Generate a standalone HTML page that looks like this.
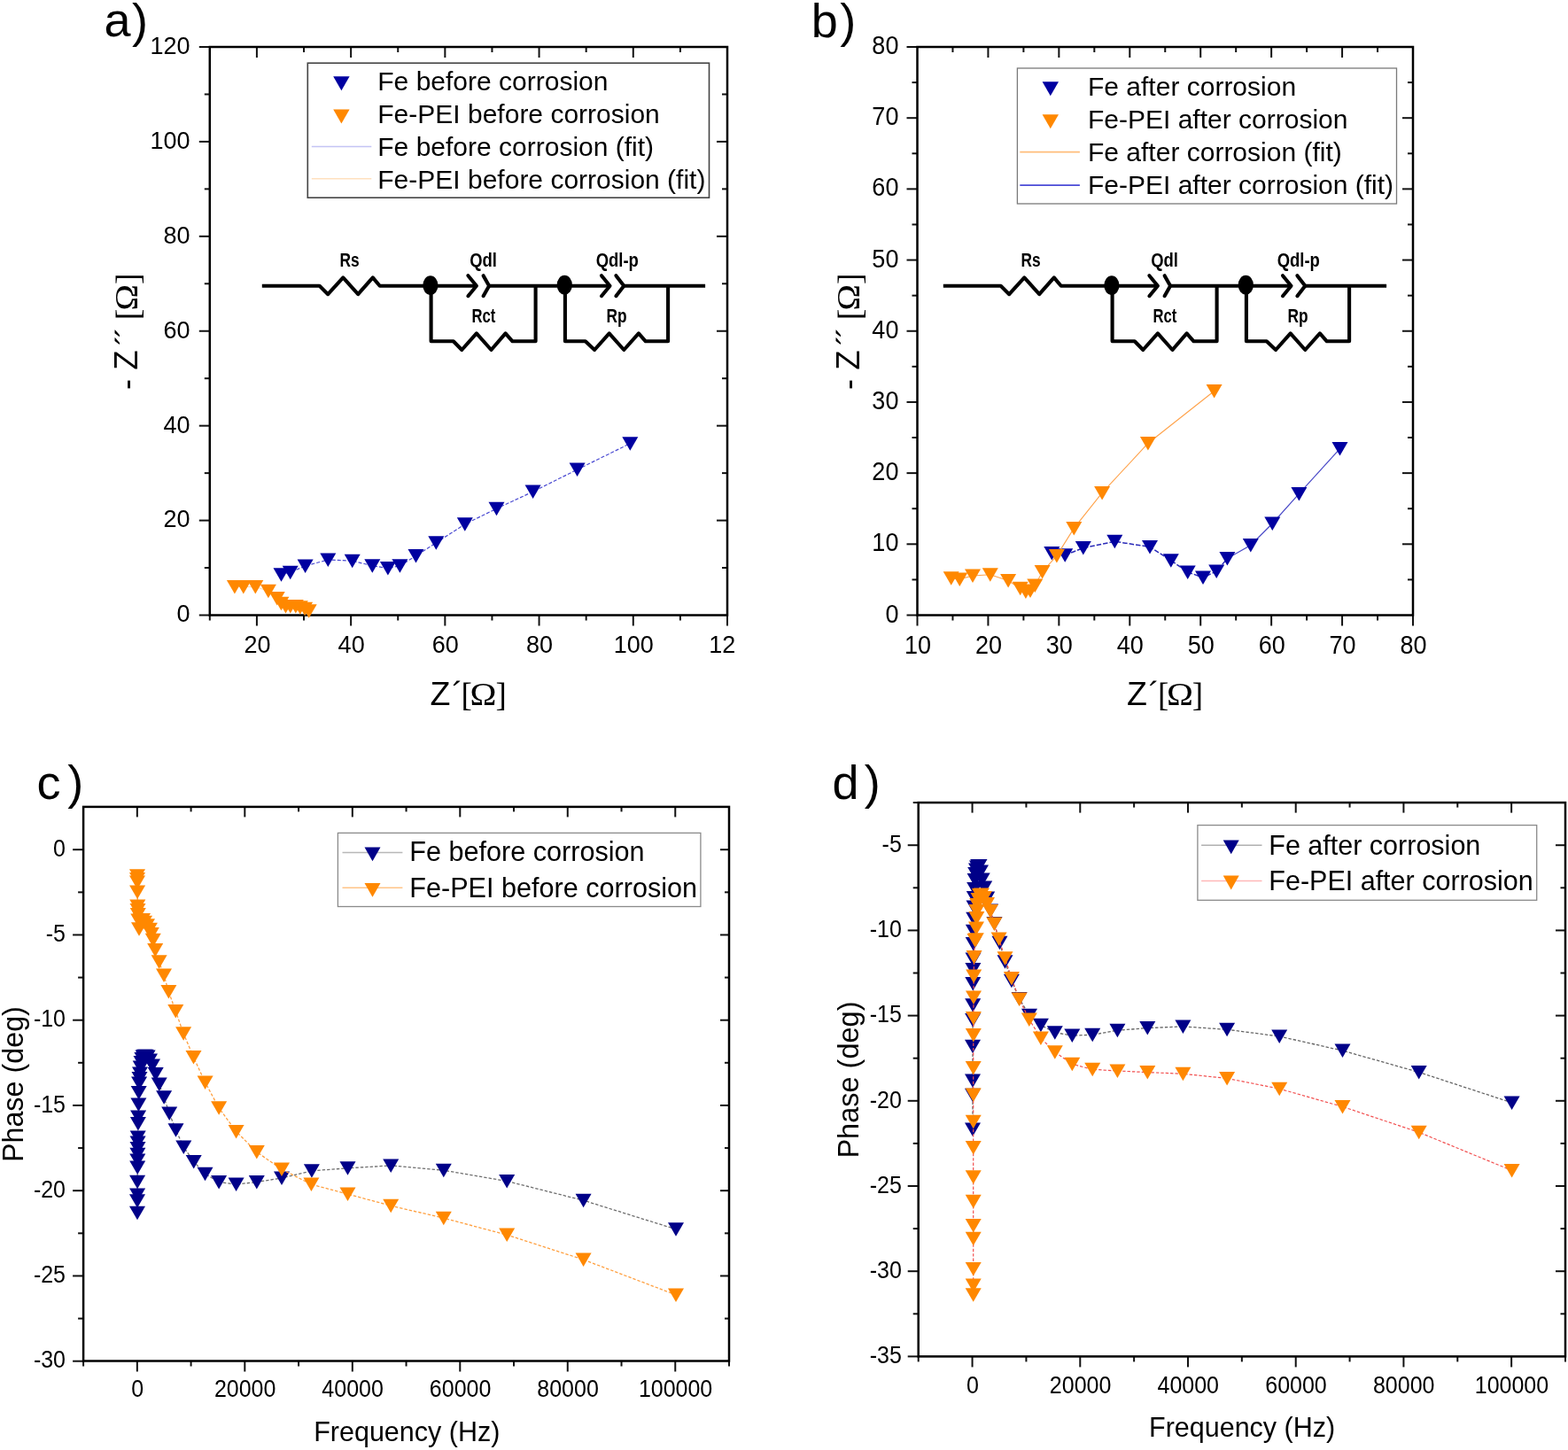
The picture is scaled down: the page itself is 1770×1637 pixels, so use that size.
<!DOCTYPE html>
<html><head><meta charset="utf-8"><title>EIS figure</title>
<style>html,body{margin:0;padding:0;background:#fff;}svg{display:block;}</style></head>
<body><svg width="1770" height="1637" viewBox="0 0 1770 1637">
<rect width="1770" height="1637" fill="#fff"/>
<line x1="289.91" y1="694.5" x2="289.91" y2="706.5" stroke="#111" stroke-width="2"/>
<line x1="289.91" y1="53" x2="289.91" y2="65" stroke="#111" stroke-width="2"/>
<line x1="396.13" y1="694.5" x2="396.13" y2="706.5" stroke="#111" stroke-width="2"/>
<line x1="396.13" y1="53" x2="396.13" y2="65" stroke="#111" stroke-width="2"/>
<line x1="502.35" y1="694.5" x2="502.35" y2="706.5" stroke="#111" stroke-width="2"/>
<line x1="502.35" y1="53" x2="502.35" y2="65" stroke="#111" stroke-width="2"/>
<line x1="608.56" y1="694.5" x2="608.56" y2="706.5" stroke="#111" stroke-width="2"/>
<line x1="608.56" y1="53" x2="608.56" y2="65" stroke="#111" stroke-width="2"/>
<line x1="714.78" y1="694.5" x2="714.78" y2="706.5" stroke="#111" stroke-width="2"/>
<line x1="714.78" y1="53" x2="714.78" y2="65" stroke="#111" stroke-width="2"/>
<line x1="821" y1="694.5" x2="821" y2="706.5" stroke="#111" stroke-width="2"/>
<line x1="236.8" y1="694.5" x2="236.8" y2="700.5" stroke="#111" stroke-width="2"/>
<line x1="343.02" y1="694.5" x2="343.02" y2="700.5" stroke="#111" stroke-width="2"/>
<line x1="343.02" y1="53" x2="343.02" y2="59" stroke="#111" stroke-width="2"/>
<line x1="449.24" y1="694.5" x2="449.24" y2="700.5" stroke="#111" stroke-width="2"/>
<line x1="449.24" y1="53" x2="449.24" y2="59" stroke="#111" stroke-width="2"/>
<line x1="555.45" y1="694.5" x2="555.45" y2="700.5" stroke="#111" stroke-width="2"/>
<line x1="555.45" y1="53" x2="555.45" y2="59" stroke="#111" stroke-width="2"/>
<line x1="661.67" y1="694.5" x2="661.67" y2="700.5" stroke="#111" stroke-width="2"/>
<line x1="661.67" y1="53" x2="661.67" y2="59" stroke="#111" stroke-width="2"/>
<line x1="767.89" y1="694.5" x2="767.89" y2="700.5" stroke="#111" stroke-width="2"/>
<line x1="767.89" y1="53" x2="767.89" y2="59" stroke="#111" stroke-width="2"/>
<line x1="224.8" y1="694.5" x2="236.8" y2="694.5" stroke="#111" stroke-width="2"/>
<line x1="224.8" y1="587.58" x2="236.8" y2="587.58" stroke="#111" stroke-width="2"/>
<line x1="809" y1="587.58" x2="821" y2="587.58" stroke="#111" stroke-width="2"/>
<line x1="224.8" y1="480.67" x2="236.8" y2="480.67" stroke="#111" stroke-width="2"/>
<line x1="809" y1="480.67" x2="821" y2="480.67" stroke="#111" stroke-width="2"/>
<line x1="224.8" y1="373.75" x2="236.8" y2="373.75" stroke="#111" stroke-width="2"/>
<line x1="809" y1="373.75" x2="821" y2="373.75" stroke="#111" stroke-width="2"/>
<line x1="224.8" y1="266.83" x2="236.8" y2="266.83" stroke="#111" stroke-width="2"/>
<line x1="809" y1="266.83" x2="821" y2="266.83" stroke="#111" stroke-width="2"/>
<line x1="224.8" y1="159.92" x2="236.8" y2="159.92" stroke="#111" stroke-width="2"/>
<line x1="809" y1="159.92" x2="821" y2="159.92" stroke="#111" stroke-width="2"/>
<line x1="224.8" y1="53" x2="236.8" y2="53" stroke="#111" stroke-width="2"/>
<line x1="230.8" y1="641.04" x2="236.8" y2="641.04" stroke="#111" stroke-width="2"/>
<line x1="815" y1="641.04" x2="821" y2="641.04" stroke="#111" stroke-width="2"/>
<line x1="230.8" y1="534.12" x2="236.8" y2="534.12" stroke="#111" stroke-width="2"/>
<line x1="815" y1="534.12" x2="821" y2="534.12" stroke="#111" stroke-width="2"/>
<line x1="230.8" y1="427.21" x2="236.8" y2="427.21" stroke="#111" stroke-width="2"/>
<line x1="815" y1="427.21" x2="821" y2="427.21" stroke="#111" stroke-width="2"/>
<line x1="230.8" y1="320.29" x2="236.8" y2="320.29" stroke="#111" stroke-width="2"/>
<line x1="815" y1="320.29" x2="821" y2="320.29" stroke="#111" stroke-width="2"/>
<line x1="230.8" y1="213.38" x2="236.8" y2="213.38" stroke="#111" stroke-width="2"/>
<line x1="815" y1="213.38" x2="821" y2="213.38" stroke="#111" stroke-width="2"/>
<line x1="230.8" y1="106.46" x2="236.8" y2="106.46" stroke="#111" stroke-width="2"/>
<line x1="815" y1="106.46" x2="821" y2="106.46" stroke="#111" stroke-width="2"/>
<rect x="236.8" y="53" width="584.2" height="641.5" fill="none" stroke="#000" stroke-width="2.5"/>
<text transform="translate(290.41,737) scale(1,1.04)" font-size="27" text-anchor="middle" font-family="'Liberation Sans', Arial, sans-serif">20</text>
<text transform="translate(396.63,737) scale(1,1.04)" font-size="27" text-anchor="middle" font-family="'Liberation Sans', Arial, sans-serif">40</text>
<text transform="translate(502.85,737) scale(1,1.04)" font-size="27" text-anchor="middle" font-family="'Liberation Sans', Arial, sans-serif">60</text>
<text transform="translate(609.06,737) scale(1,1.04)" font-size="27" text-anchor="middle" font-family="'Liberation Sans', Arial, sans-serif">80</text>
<text transform="translate(715.28,737) scale(1,1.04)" font-size="27" text-anchor="middle" font-family="'Liberation Sans', Arial, sans-serif">100</text>
<text transform="translate(800.2,737) scale(1,1.04)" font-size="27" text-anchor="start" font-family="'Liberation Sans', Arial, sans-serif">12</text>
<text transform="translate(214.6,702.4) scale(1,1.04)" font-size="27" text-anchor="end" font-family="'Liberation Sans', Arial, sans-serif">0</text>
<text transform="translate(214.6,595.48) scale(1,1.04)" font-size="27" text-anchor="end" font-family="'Liberation Sans', Arial, sans-serif">20</text>
<text transform="translate(214.6,488.57) scale(1,1.04)" font-size="27" text-anchor="end" font-family="'Liberation Sans', Arial, sans-serif">40</text>
<text transform="translate(214.6,381.65) scale(1,1.04)" font-size="27" text-anchor="end" font-family="'Liberation Sans', Arial, sans-serif">60</text>
<text transform="translate(214.6,274.73) scale(1,1.04)" font-size="27" text-anchor="end" font-family="'Liberation Sans', Arial, sans-serif">80</text>
<text transform="translate(214.6,167.82) scale(1,1.04)" font-size="27" text-anchor="end" font-family="'Liberation Sans', Arial, sans-serif">100</text>
<text transform="translate(214.6,60.9) scale(1,1.04)" font-size="27" text-anchor="end" font-family="'Liberation Sans', Arial, sans-serif">120</text>
<polyline points="264.9,662.5 274.8,662.5 288.3,662.5 302.9,667.3 312.7,675.4 317.4,681.3 322.5,684.5 327.8,684.5 333.8,684.5 338.8,685.8 344.1,687.2 348.7,689.8" fill="none" stroke="#ffd9b0" stroke-width="1"/>
<polygon points="255.9,655 273.9,655 264.9,670.5" fill="#ff8800"/>
<polygon points="265.8,655 283.8,655 274.8,670.5" fill="#ff8800"/>
<polygon points="279.3,655 297.3,655 288.3,670.5" fill="#ff8800"/>
<polygon points="293.9,659.8 311.9,659.8 302.9,675.3" fill="#ff8800"/>
<polygon points="303.7,667.9 321.7,667.9 312.7,683.4" fill="#ff8800"/>
<polygon points="308.4,673.8 326.4,673.8 317.4,689.3" fill="#ff8800"/>
<polygon points="313.5,677 331.5,677 322.5,692.5" fill="#ff8800"/>
<polygon points="318.8,677 336.8,677 327.8,692.5" fill="#ff8800"/>
<polygon points="324.8,677 342.8,677 333.8,692.5" fill="#ff8800"/>
<polygon points="329.8,678.3 347.8,678.3 338.8,693.8" fill="#ff8800"/>
<polygon points="335.1,679.7 353.1,679.7 344.1,695.2" fill="#ff8800"/>
<polygon points="339.7,682.3 357.7,682.3 348.7,697.8" fill="#ff8800"/>
<polyline points="317.5,648.8 327.7,646.2 344.6,638.9 370.3,632 397.7,633.2 420.3,638.7 437.9,641.5 451.4,638.7 469.5,627.6 492.3,612.7 524.8,591.8 560.5,574.2 601.6,555.1 651.6,530.1 711.3,500.7" fill="none" stroke="#4a4ad2" stroke-width="1.2" stroke-dasharray="4 2"/>
<polygon points="308.5,641.3 326.5,641.3 317.5,656.8" fill="#0000a0"/>
<polygon points="318.7,638.7 336.7,638.7 327.7,654.2" fill="#0000a0"/>
<polygon points="335.6,631.4 353.6,631.4 344.6,646.9" fill="#0000a0"/>
<polygon points="361.3,624.5 379.3,624.5 370.3,640" fill="#0000a0"/>
<polygon points="388.7,625.7 406.7,625.7 397.7,641.2" fill="#0000a0"/>
<polygon points="411.3,631.2 429.3,631.2 420.3,646.7" fill="#0000a0"/>
<polygon points="428.9,634 446.9,634 437.9,649.5" fill="#0000a0"/>
<polygon points="442.4,631.2 460.4,631.2 451.4,646.7" fill="#0000a0"/>
<polygon points="460.5,620.1 478.5,620.1 469.5,635.6" fill="#0000a0"/>
<polygon points="483.3,605.2 501.3,605.2 492.3,620.7" fill="#0000a0"/>
<polygon points="515.8,584.3 533.8,584.3 524.8,599.8" fill="#0000a0"/>
<polygon points="551.5,566.7 569.5,566.7 560.5,582.2" fill="#0000a0"/>
<polygon points="592.6,547.6 610.6,547.6 601.6,563.1" fill="#0000a0"/>
<polygon points="642.6,522.6 660.6,522.6 651.6,538.1" fill="#0000a0"/>
<polygon points="702.3,493.2 720.3,493.2 711.3,508.7" fill="#0000a0"/>
<rect x="347.3" y="71.2" width="453.2" height="152" fill="#fff" stroke="#444" stroke-width="1.6"/>
<polygon points="376.2,86.2 394.6,86.2 385.4,102.2" fill="#0000a0"/>
<polygon points="376.2,123.4 394.6,123.4 385.4,139.4" fill="#ff8800"/>
<line x1="351.8" y1="165.5" x2="419.3" y2="165.5" stroke="#c4c4f4" stroke-width="1.5"/>
<line x1="351.8" y1="201.7" x2="419.3" y2="201.7" stroke="#ffe0bf" stroke-width="1.5"/>
<text x="426.3" y="101.9" font-size="30" text-anchor="start" font-family="'Liberation Sans', Arial, sans-serif">Fe before corrosion</text>
<text x="426.3" y="138.85" font-size="30" text-anchor="start" font-family="'Liberation Sans', Arial, sans-serif">Fe-PEI before corrosion</text>
<text x="426.3" y="175.8" font-size="30" text-anchor="start" font-family="'Liberation Sans', Arial, sans-serif">Fe before corrosion (fit)</text>
<text x="426.3" y="212.75" font-size="30" text-anchor="start" font-family="'Liberation Sans', Arial, sans-serif">Fe-PEI before corrosion (fit)</text>
<text x="117.6" y="41" font-size="54" text-anchor="start" font-family="'Liberation Sans', Arial, sans-serif">a</text>
<text x="149" y="41.5" font-size="54" text-anchor="start" font-family="'Liberation Sans', Arial, sans-serif">)</text>
<text y="795.5" font-size="37.5" font-family="'Liberation Sans', Arial, sans-serif"><tspan x="485.6">Z</tspan><tspan x="510.2">´</tspan><tspan x="520.6" y="796.7" font-family="'Liberation Serif', 'Times New Roman', serif" font-size="37">[</tspan></text>
<text transform="translate(530.6,795.5) scale(1.12,1)" font-size="36" font-family="'Liberation Serif', 'Times New Roman', serif">Ω</text>
<text x="559.4" y="796.7" font-size="37" font-family="'Liberation Serif', 'Times New Roman', serif">]</text>
<text transform="translate(155.3,438.5) rotate(-90)" y="0" font-size="36" font-family="'Liberation Sans', Arial, sans-serif"><tspan x="-1.6">-</tspan><tspan x="20.8" font-size="36.5">Z</tspan><tspan x="48.4" y="1.5">´</tspan><tspan x="57.2" y="1.5">´</tspan><tspan x="77.2" y="1.8" font-family="'Liberation Serif', 'Times New Roman', serif" font-size="38">[</tspan></text>
<text transform="translate(155.3,438.5) rotate(-90) translate(88,0) scale(1.1,1)" font-size="36" font-family="'Liberation Serif', 'Times New Roman', serif">Ω</text>
<text transform="translate(155.3,438.5) rotate(-90)" x="117.6" y="1.8" font-size="38" font-family="'Liberation Serif', 'Times New Roman', serif">]</text>
<polyline points="295.8,322.8 360.7,322.8 370.2,332.2 387.3,313.4 404.2,332.2 420.8,313.4 428.7,322.8 537,322.8" stroke="#000" stroke-width="4.1" fill="none" stroke-linejoin="round"/>
<polyline points="528.4,311.2 537.9,322.8 528.4,334.2" stroke="#000" stroke-width="4.1" fill="none" stroke-linejoin="round" stroke-linecap="round"/>
<polyline points="545.6,311.2 552.1,322.8 545.6,334.2" stroke="#000" stroke-width="4.1" fill="none" stroke-linejoin="round" stroke-linecap="round"/>
<polyline points="552.1,322.8 687.6,322.8" stroke="#000" stroke-width="4.1" fill="none" stroke-linejoin="round"/>
<polyline points="679,311.2 688.5,322.8 679,334.2" stroke="#000" stroke-width="4.1" fill="none" stroke-linejoin="round" stroke-linecap="round"/>
<polyline points="695.4,311.2 704.3,322.8 695.4,334.2" stroke="#000" stroke-width="4.1" fill="none" stroke-linejoin="round" stroke-linecap="round"/>
<polyline points="704.3,322.8 796.1,322.8" stroke="#000" stroke-width="4.1" fill="none" stroke-linejoin="round"/>
<polyline points="486.6,322.8 486.6,385.3 511.8,385.3 521.3,395 537.9,376.4 554.5,395 570.6,376.4 578.5,385.3 604.6,385.3 604.6,322.8" stroke="#000" stroke-width="4.1" fill="none" stroke-linejoin="round"/>
<polyline points="637.9,322.8 637.9,385.3 660.8,385.3 671.1,395 687.7,376.4 704.3,395 720.9,376.4 728.8,385.3 754.1,385.3 754.1,322.8" stroke="#000" stroke-width="4.1" fill="none" stroke-linejoin="round"/>
<ellipse cx="485.9" cy="322.3" rx="8.6" ry="11" fill="#000"/>
<ellipse cx="637.3" cy="321.8" rx="8.6" ry="11" fill="#000"/>
<text transform="translate(383.6,300.8) scale(0.76,1)" font-size="22.8" font-weight="bold" font-family="'Liberation Sans', Arial, sans-serif">Rs</text>
<text transform="translate(530.2,300.8) scale(0.81,1)" font-size="22.8" font-weight="bold" font-family="'Liberation Sans', Arial, sans-serif">Qdl</text>
<text transform="translate(672.7,300.8) scale(0.81,1)" font-size="22.8" font-weight="bold" font-family="'Liberation Sans', Arial, sans-serif">Qdl-p</text>
<text transform="translate(532.6,364.1) scale(0.73,1)" font-size="22.8" font-weight="bold" font-family="'Liberation Sans', Arial, sans-serif">Rct</text>
<text transform="translate(684.5,364.1) scale(0.76,1)" font-size="22.8" font-weight="bold" font-family="'Liberation Sans', Arial, sans-serif">Rp</text>
<line x1="1035.5" y1="694.5" x2="1035.5" y2="706.5" stroke="#111" stroke-width="2"/>
<line x1="1115.43" y1="694.5" x2="1115.43" y2="706.5" stroke="#111" stroke-width="2"/>
<line x1="1115.43" y1="53" x2="1115.43" y2="65" stroke="#111" stroke-width="2"/>
<line x1="1195.36" y1="694.5" x2="1195.36" y2="706.5" stroke="#111" stroke-width="2"/>
<line x1="1195.36" y1="53" x2="1195.36" y2="65" stroke="#111" stroke-width="2"/>
<line x1="1275.29" y1="694.5" x2="1275.29" y2="706.5" stroke="#111" stroke-width="2"/>
<line x1="1275.29" y1="53" x2="1275.29" y2="65" stroke="#111" stroke-width="2"/>
<line x1="1355.21" y1="694.5" x2="1355.21" y2="706.5" stroke="#111" stroke-width="2"/>
<line x1="1355.21" y1="53" x2="1355.21" y2="65" stroke="#111" stroke-width="2"/>
<line x1="1435.14" y1="694.5" x2="1435.14" y2="706.5" stroke="#111" stroke-width="2"/>
<line x1="1435.14" y1="53" x2="1435.14" y2="65" stroke="#111" stroke-width="2"/>
<line x1="1515.07" y1="694.5" x2="1515.07" y2="706.5" stroke="#111" stroke-width="2"/>
<line x1="1515.07" y1="53" x2="1515.07" y2="65" stroke="#111" stroke-width="2"/>
<line x1="1595" y1="694.5" x2="1595" y2="706.5" stroke="#111" stroke-width="2"/>
<line x1="1075.46" y1="694.5" x2="1075.46" y2="700.5" stroke="#111" stroke-width="2"/>
<line x1="1075.46" y1="53" x2="1075.46" y2="59" stroke="#111" stroke-width="2"/>
<line x1="1155.39" y1="694.5" x2="1155.39" y2="700.5" stroke="#111" stroke-width="2"/>
<line x1="1155.39" y1="53" x2="1155.39" y2="59" stroke="#111" stroke-width="2"/>
<line x1="1235.32" y1="694.5" x2="1235.32" y2="700.5" stroke="#111" stroke-width="2"/>
<line x1="1235.32" y1="53" x2="1235.32" y2="59" stroke="#111" stroke-width="2"/>
<line x1="1315.25" y1="694.5" x2="1315.25" y2="700.5" stroke="#111" stroke-width="2"/>
<line x1="1315.25" y1="53" x2="1315.25" y2="59" stroke="#111" stroke-width="2"/>
<line x1="1395.18" y1="694.5" x2="1395.18" y2="700.5" stroke="#111" stroke-width="2"/>
<line x1="1395.18" y1="53" x2="1395.18" y2="59" stroke="#111" stroke-width="2"/>
<line x1="1475.11" y1="694.5" x2="1475.11" y2="700.5" stroke="#111" stroke-width="2"/>
<line x1="1475.11" y1="53" x2="1475.11" y2="59" stroke="#111" stroke-width="2"/>
<line x1="1555.04" y1="694.5" x2="1555.04" y2="700.5" stroke="#111" stroke-width="2"/>
<line x1="1555.04" y1="53" x2="1555.04" y2="59" stroke="#111" stroke-width="2"/>
<line x1="1023.5" y1="694.5" x2="1035.5" y2="694.5" stroke="#111" stroke-width="2"/>
<line x1="1023.5" y1="614.31" x2="1035.5" y2="614.31" stroke="#111" stroke-width="2"/>
<line x1="1583" y1="614.31" x2="1595" y2="614.31" stroke="#111" stroke-width="2"/>
<line x1="1023.5" y1="534.12" x2="1035.5" y2="534.12" stroke="#111" stroke-width="2"/>
<line x1="1583" y1="534.12" x2="1595" y2="534.12" stroke="#111" stroke-width="2"/>
<line x1="1023.5" y1="453.94" x2="1035.5" y2="453.94" stroke="#111" stroke-width="2"/>
<line x1="1583" y1="453.94" x2="1595" y2="453.94" stroke="#111" stroke-width="2"/>
<line x1="1023.5" y1="373.75" x2="1035.5" y2="373.75" stroke="#111" stroke-width="2"/>
<line x1="1583" y1="373.75" x2="1595" y2="373.75" stroke="#111" stroke-width="2"/>
<line x1="1023.5" y1="293.56" x2="1035.5" y2="293.56" stroke="#111" stroke-width="2"/>
<line x1="1583" y1="293.56" x2="1595" y2="293.56" stroke="#111" stroke-width="2"/>
<line x1="1023.5" y1="213.38" x2="1035.5" y2="213.38" stroke="#111" stroke-width="2"/>
<line x1="1583" y1="213.38" x2="1595" y2="213.38" stroke="#111" stroke-width="2"/>
<line x1="1023.5" y1="133.19" x2="1035.5" y2="133.19" stroke="#111" stroke-width="2"/>
<line x1="1583" y1="133.19" x2="1595" y2="133.19" stroke="#111" stroke-width="2"/>
<line x1="1023.5" y1="53" x2="1035.5" y2="53" stroke="#111" stroke-width="2"/>
<line x1="1029.5" y1="654.41" x2="1035.5" y2="654.41" stroke="#111" stroke-width="2"/>
<line x1="1589" y1="654.41" x2="1595" y2="654.41" stroke="#111" stroke-width="2"/>
<line x1="1029.5" y1="574.22" x2="1035.5" y2="574.22" stroke="#111" stroke-width="2"/>
<line x1="1589" y1="574.22" x2="1595" y2="574.22" stroke="#111" stroke-width="2"/>
<line x1="1029.5" y1="494.03" x2="1035.5" y2="494.03" stroke="#111" stroke-width="2"/>
<line x1="1589" y1="494.03" x2="1595" y2="494.03" stroke="#111" stroke-width="2"/>
<line x1="1029.5" y1="413.84" x2="1035.5" y2="413.84" stroke="#111" stroke-width="2"/>
<line x1="1589" y1="413.84" x2="1595" y2="413.84" stroke="#111" stroke-width="2"/>
<line x1="1029.5" y1="333.66" x2="1035.5" y2="333.66" stroke="#111" stroke-width="2"/>
<line x1="1589" y1="333.66" x2="1595" y2="333.66" stroke="#111" stroke-width="2"/>
<line x1="1029.5" y1="253.47" x2="1035.5" y2="253.47" stroke="#111" stroke-width="2"/>
<line x1="1589" y1="253.47" x2="1595" y2="253.47" stroke="#111" stroke-width="2"/>
<line x1="1029.5" y1="173.28" x2="1035.5" y2="173.28" stroke="#111" stroke-width="2"/>
<line x1="1589" y1="173.28" x2="1595" y2="173.28" stroke="#111" stroke-width="2"/>
<line x1="1029.5" y1="93.09" x2="1035.5" y2="93.09" stroke="#111" stroke-width="2"/>
<line x1="1589" y1="93.09" x2="1595" y2="93.09" stroke="#111" stroke-width="2"/>
<rect x="1035.5" y="53" width="559.5" height="641.5" fill="none" stroke="#000" stroke-width="2.5"/>
<text transform="translate(1036,737.9) scale(1,1.07)" font-size="27" text-anchor="middle" font-family="'Liberation Sans', Arial, sans-serif">10</text>
<text transform="translate(1115.93,737.9) scale(1,1.07)" font-size="27" text-anchor="middle" font-family="'Liberation Sans', Arial, sans-serif">20</text>
<text transform="translate(1195.86,737.9) scale(1,1.07)" font-size="27" text-anchor="middle" font-family="'Liberation Sans', Arial, sans-serif">30</text>
<text transform="translate(1275.79,737.9) scale(1,1.07)" font-size="27" text-anchor="middle" font-family="'Liberation Sans', Arial, sans-serif">40</text>
<text transform="translate(1355.71,737.9) scale(1,1.07)" font-size="27" text-anchor="middle" font-family="'Liberation Sans', Arial, sans-serif">50</text>
<text transform="translate(1435.64,737.9) scale(1,1.07)" font-size="27" text-anchor="middle" font-family="'Liberation Sans', Arial, sans-serif">60</text>
<text transform="translate(1515.57,737.9) scale(1,1.07)" font-size="27" text-anchor="middle" font-family="'Liberation Sans', Arial, sans-serif">70</text>
<text transform="translate(1595.5,737.9) scale(1,1.07)" font-size="27" text-anchor="middle" font-family="'Liberation Sans', Arial, sans-serif">80</text>
<text transform="translate(1014.4,702.6) scale(1,1.07)" font-size="27" text-anchor="end" font-family="'Liberation Sans', Arial, sans-serif">0</text>
<text transform="translate(1014.4,622.41) scale(1,1.07)" font-size="27" text-anchor="end" font-family="'Liberation Sans', Arial, sans-serif">10</text>
<text transform="translate(1014.4,542.23) scale(1,1.07)" font-size="27" text-anchor="end" font-family="'Liberation Sans', Arial, sans-serif">20</text>
<text transform="translate(1014.4,462.04) scale(1,1.07)" font-size="27" text-anchor="end" font-family="'Liberation Sans', Arial, sans-serif">30</text>
<text transform="translate(1014.4,381.85) scale(1,1.07)" font-size="27" text-anchor="end" font-family="'Liberation Sans', Arial, sans-serif">40</text>
<text transform="translate(1014.4,301.66) scale(1,1.07)" font-size="27" text-anchor="end" font-family="'Liberation Sans', Arial, sans-serif">50</text>
<text transform="translate(1014.4,221.47) scale(1,1.07)" font-size="27" text-anchor="end" font-family="'Liberation Sans', Arial, sans-serif">60</text>
<text transform="translate(1014.4,141.29) scale(1,1.07)" font-size="27" text-anchor="end" font-family="'Liberation Sans', Arial, sans-serif">70</text>
<text transform="translate(1014.4,61.1) scale(1,1.07)" font-size="27" text-anchor="end" font-family="'Liberation Sans', Arial, sans-serif">80</text>
<polyline points="1187.3,624.5 1202.2,626.8 1222.8,618.6 1258.3,611.3 1298,617.4 1321.8,632.7 1340.7,645.9 1358,652 1373.2,644.9 1385.4,630.6" fill="none" stroke="#2a2ab8" stroke-width="1.5" stroke-dasharray="5.5 2"/>
<polyline points="1385.4,630.6 1411.8,615.4 1436.3,591 1466.4,557.4 1512.5,506.6" fill="none" stroke="#4a4ac8" stroke-width="1.2"/>
<polygon points="1178.3,617 1196.3,617 1187.3,632.5" fill="#0000a0"/>
<polygon points="1193.2,619.3 1211.2,619.3 1202.2,634.8" fill="#0000a0"/>
<polygon points="1213.8,611.1 1231.8,611.1 1222.8,626.6" fill="#0000a0"/>
<polygon points="1249.3,603.8 1267.3,603.8 1258.3,619.3" fill="#0000a0"/>
<polygon points="1289,609.9 1307,609.9 1298,625.4" fill="#0000a0"/>
<polygon points="1312.8,625.2 1330.8,625.2 1321.8,640.7" fill="#0000a0"/>
<polygon points="1331.7,638.4 1349.7,638.4 1340.7,653.9" fill="#0000a0"/>
<polygon points="1349,644.5 1367,644.5 1358,660" fill="#0000a0"/>
<polygon points="1364.2,637.4 1382.2,637.4 1373.2,652.9" fill="#0000a0"/>
<polygon points="1376.4,623.1 1394.4,623.1 1385.4,638.6" fill="#0000a0"/>
<polygon points="1402.8,607.9 1420.8,607.9 1411.8,623.4" fill="#0000a0"/>
<polygon points="1427.3,583.5 1445.3,583.5 1436.3,599" fill="#0000a0"/>
<polygon points="1457.4,549.9 1475.4,549.9 1466.4,565.4" fill="#0000a0"/>
<polygon points="1503.5,499.1 1521.5,499.1 1512.5,514.6" fill="#0000a0"/>
<polyline points="1073.7,652.8 1083.3,653.9 1098,650 1117.8,648.8 1138.1,655.6 1151.7,664.3 1157.9,668 1163,666.9 1168.3,660.9 1176.6,645.6 1192.9,627.4 1212.3,596.4 1244.1,556.4 1295.9,500.5 1370.6,441.5" fill="none" stroke="#ffa24a" stroke-width="1.1"/>
<polygon points="1064.7,645.3 1082.7,645.3 1073.7,660.8" fill="#ff8800"/>
<polygon points="1074.3,646.4 1092.3,646.4 1083.3,661.9" fill="#ff8800"/>
<polygon points="1089,642.5 1107,642.5 1098,658" fill="#ff8800"/>
<polygon points="1108.8,641.3 1126.8,641.3 1117.8,656.8" fill="#ff8800"/>
<polygon points="1129.1,648.1 1147.1,648.1 1138.1,663.6" fill="#ff8800"/>
<polygon points="1142.7,656.8 1160.7,656.8 1151.7,672.3" fill="#ff8800"/>
<polygon points="1148.9,660.5 1166.9,660.5 1157.9,676" fill="#ff8800"/>
<polygon points="1154,659.4 1172,659.4 1163,674.9" fill="#ff8800"/>
<polygon points="1159.3,653.4 1177.3,653.4 1168.3,668.9" fill="#ff8800"/>
<polygon points="1167.6,638.1 1185.6,638.1 1176.6,653.6" fill="#ff8800"/>
<polygon points="1183.9,619.9 1201.9,619.9 1192.9,635.4" fill="#ff8800"/>
<polygon points="1203.3,588.9 1221.3,588.9 1212.3,604.4" fill="#ff8800"/>
<polygon points="1235.1,548.9 1253.1,548.9 1244.1,564.4" fill="#ff8800"/>
<polygon points="1286.9,493 1304.9,493 1295.9,508.5" fill="#ff8800"/>
<polygon points="1361.6,434 1379.6,434 1370.6,449.5" fill="#ff8800"/>
<rect x="1148.4" y="77" width="428.1" height="153" fill="#fff" stroke="#7a7a7a" stroke-width="1.3"/>
<polygon points="1176.6,92.3 1195,92.3 1185.8,108.3" fill="#0000a0"/>
<polygon points="1176.6,129.2 1195,129.2 1185.8,145.2" fill="#ff8800"/>
<line x1="1151.3" y1="171.6" x2="1218.9" y2="171.6" stroke="#ffbd7a" stroke-width="1.6"/>
<line x1="1151.3" y1="209.1" x2="1218.9" y2="209.1" stroke="#4a4ad6" stroke-width="1.6"/>
<text x="1228" y="108.2" font-size="30" text-anchor="start" font-family="'Liberation Sans', Arial, sans-serif">Fe after corrosion</text>
<text x="1228" y="145" font-size="30" text-anchor="start" font-family="'Liberation Sans', Arial, sans-serif">Fe-PEI after corrosion</text>
<text x="1228" y="181.8" font-size="30" text-anchor="start" font-family="'Liberation Sans', Arial, sans-serif">Fe after corrosion (fit)</text>
<text x="1228" y="218.6" font-size="30" text-anchor="start" font-family="'Liberation Sans', Arial, sans-serif">Fe-PEI after corrosion (fit)</text>
<text x="915.8" y="41.5" font-size="54" text-anchor="start" font-family="'Liberation Sans', Arial, sans-serif">b</text>
<text x="948.3" y="41.5" font-size="54" text-anchor="start" font-family="'Liberation Sans', Arial, sans-serif">)</text>
<text y="795.5" font-size="37.5" font-family="'Liberation Sans', Arial, sans-serif"><tspan x="1272">Z</tspan><tspan x="1296.6">´</tspan><tspan x="1307" y="796.7" font-family="'Liberation Serif', 'Times New Roman', serif" font-size="37">[</tspan></text>
<text transform="translate(1317,795.5) scale(1.12,1)" font-size="36" font-family="'Liberation Serif', 'Times New Roman', serif">Ω</text>
<text x="1345.8" y="796.7" font-size="37" font-family="'Liberation Serif', 'Times New Roman', serif">]</text>
<text transform="translate(969.9,438.5) rotate(-90)" y="0" font-size="36" font-family="'Liberation Sans', Arial, sans-serif"><tspan x="-1.6">-</tspan><tspan x="20.8" font-size="36.5">Z</tspan><tspan x="48.4" y="1.5">´</tspan><tspan x="57.2" y="1.5">´</tspan><tspan x="77.2" y="1.8" font-family="'Liberation Serif', 'Times New Roman', serif" font-size="38">[</tspan></text>
<text transform="translate(969.9,438.5) rotate(-90) translate(88,0) scale(1.1,1)" font-size="36" font-family="'Liberation Serif', 'Times New Roman', serif">Ω</text>
<text transform="translate(969.9,438.5) rotate(-90)" x="117.6" y="1.8" font-size="38" font-family="'Liberation Serif', 'Times New Roman', serif">]</text>
<polyline points="1064.8,322.8 1129.7,322.8 1139.2,332.2 1156.3,313.4 1173.2,332.2 1189.8,313.4 1197.7,322.8 1306,322.8" stroke="#000" stroke-width="4.1" fill="none" stroke-linejoin="round"/>
<polyline points="1297.4,311.2 1306.9,322.8 1297.4,334.2" stroke="#000" stroke-width="4.1" fill="none" stroke-linejoin="round" stroke-linecap="round"/>
<polyline points="1314.6,311.2 1321.1,322.8 1314.6,334.2" stroke="#000" stroke-width="4.1" fill="none" stroke-linejoin="round" stroke-linecap="round"/>
<polyline points="1321.1,322.8 1456.6,322.8" stroke="#000" stroke-width="4.1" fill="none" stroke-linejoin="round"/>
<polyline points="1448,311.2 1457.5,322.8 1448,334.2" stroke="#000" stroke-width="4.1" fill="none" stroke-linejoin="round" stroke-linecap="round"/>
<polyline points="1464.4,311.2 1473.3,322.8 1464.4,334.2" stroke="#000" stroke-width="4.1" fill="none" stroke-linejoin="round" stroke-linecap="round"/>
<polyline points="1473.3,322.8 1565.1,322.8" stroke="#000" stroke-width="4.1" fill="none" stroke-linejoin="round"/>
<polyline points="1255.6,322.8 1255.6,385.3 1280.8,385.3 1290.3,395 1306.9,376.4 1323.5,395 1339.6,376.4 1347.5,385.3 1373.6,385.3 1373.6,322.8" stroke="#000" stroke-width="4.1" fill="none" stroke-linejoin="round"/>
<polyline points="1406.9,322.8 1406.9,385.3 1429.8,385.3 1440.1,395 1456.7,376.4 1473.3,395 1489.9,376.4 1497.8,385.3 1523.1,385.3 1523.1,322.8" stroke="#000" stroke-width="4.1" fill="none" stroke-linejoin="round"/>
<ellipse cx="1254.9" cy="322.3" rx="8.6" ry="11" fill="#000"/>
<ellipse cx="1406.3" cy="321.8" rx="8.6" ry="11" fill="#000"/>
<text transform="translate(1152.6,300.8) scale(0.76,1)" font-size="22.8" font-weight="bold" font-family="'Liberation Sans', Arial, sans-serif">Rs</text>
<text transform="translate(1299.2,300.8) scale(0.81,1)" font-size="22.8" font-weight="bold" font-family="'Liberation Sans', Arial, sans-serif">Qdl</text>
<text transform="translate(1441.7,300.8) scale(0.81,1)" font-size="22.8" font-weight="bold" font-family="'Liberation Sans', Arial, sans-serif">Qdl-p</text>
<text transform="translate(1301.6,364.1) scale(0.73,1)" font-size="22.8" font-weight="bold" font-family="'Liberation Sans', Arial, sans-serif">Rct</text>
<text transform="translate(1453.5,364.1) scale(0.76,1)" font-size="22.8" font-weight="bold" font-family="'Liberation Sans', Arial, sans-serif">Rp</text>
<line x1="154.84" y1="1536.5" x2="154.84" y2="1548.5" stroke="#111" stroke-width="2"/>
<line x1="154.84" y1="910.9" x2="154.84" y2="922.4" stroke="#111" stroke-width="2"/>
<line x1="276.32" y1="1536.5" x2="276.32" y2="1548.5" stroke="#111" stroke-width="2"/>
<line x1="276.32" y1="910.9" x2="276.32" y2="922.4" stroke="#111" stroke-width="2"/>
<line x1="397.81" y1="1536.5" x2="397.81" y2="1548.5" stroke="#111" stroke-width="2"/>
<line x1="397.81" y1="910.9" x2="397.81" y2="922.4" stroke="#111" stroke-width="2"/>
<line x1="519.29" y1="1536.5" x2="519.29" y2="1548.5" stroke="#111" stroke-width="2"/>
<line x1="519.29" y1="910.9" x2="519.29" y2="922.4" stroke="#111" stroke-width="2"/>
<line x1="640.77" y1="1536.5" x2="640.77" y2="1548.5" stroke="#111" stroke-width="2"/>
<line x1="640.77" y1="910.9" x2="640.77" y2="922.4" stroke="#111" stroke-width="2"/>
<line x1="762.26" y1="1536.5" x2="762.26" y2="1548.5" stroke="#111" stroke-width="2"/>
<line x1="762.26" y1="910.9" x2="762.26" y2="922.4" stroke="#111" stroke-width="2"/>
<line x1="94.1" y1="1536.5" x2="94.1" y2="1542.5" stroke="#111" stroke-width="2"/>
<line x1="215.58" y1="1536.5" x2="215.58" y2="1542.5" stroke="#111" stroke-width="2"/>
<line x1="215.58" y1="910.9" x2="215.58" y2="916.4" stroke="#111" stroke-width="2"/>
<line x1="337.07" y1="1536.5" x2="337.07" y2="1542.5" stroke="#111" stroke-width="2"/>
<line x1="337.07" y1="910.9" x2="337.07" y2="916.4" stroke="#111" stroke-width="2"/>
<line x1="458.55" y1="1536.5" x2="458.55" y2="1542.5" stroke="#111" stroke-width="2"/>
<line x1="458.55" y1="910.9" x2="458.55" y2="916.4" stroke="#111" stroke-width="2"/>
<line x1="580.03" y1="1536.5" x2="580.03" y2="1542.5" stroke="#111" stroke-width="2"/>
<line x1="580.03" y1="910.9" x2="580.03" y2="916.4" stroke="#111" stroke-width="2"/>
<line x1="701.52" y1="1536.5" x2="701.52" y2="1542.5" stroke="#111" stroke-width="2"/>
<line x1="701.52" y1="910.9" x2="701.52" y2="916.4" stroke="#111" stroke-width="2"/>
<line x1="823" y1="1536.5" x2="823" y2="1542.5" stroke="#111" stroke-width="2"/>
<line x1="82.1" y1="1536.7" x2="94.1" y2="1536.7" stroke="#111" stroke-width="2"/>
<line x1="82.1" y1="1440.45" x2="94.1" y2="1440.45" stroke="#111" stroke-width="2"/>
<line x1="813" y1="1440.45" x2="823" y2="1440.45" stroke="#111" stroke-width="2"/>
<line x1="82.1" y1="1344.2" x2="94.1" y2="1344.2" stroke="#111" stroke-width="2"/>
<line x1="813" y1="1344.2" x2="823" y2="1344.2" stroke="#111" stroke-width="2"/>
<line x1="82.1" y1="1247.95" x2="94.1" y2="1247.95" stroke="#111" stroke-width="2"/>
<line x1="813" y1="1247.95" x2="823" y2="1247.95" stroke="#111" stroke-width="2"/>
<line x1="82.1" y1="1151.7" x2="94.1" y2="1151.7" stroke="#111" stroke-width="2"/>
<line x1="813" y1="1151.7" x2="823" y2="1151.7" stroke="#111" stroke-width="2"/>
<line x1="82.1" y1="1055.45" x2="94.1" y2="1055.45" stroke="#111" stroke-width="2"/>
<line x1="813" y1="1055.45" x2="823" y2="1055.45" stroke="#111" stroke-width="2"/>
<line x1="82.1" y1="959.2" x2="94.1" y2="959.2" stroke="#111" stroke-width="2"/>
<line x1="813" y1="959.2" x2="823" y2="959.2" stroke="#111" stroke-width="2"/>
<line x1="88.1" y1="1488.58" x2="94.1" y2="1488.58" stroke="#111" stroke-width="2"/>
<line x1="818" y1="1488.58" x2="823" y2="1488.58" stroke="#111" stroke-width="2"/>
<line x1="88.1" y1="1392.33" x2="94.1" y2="1392.33" stroke="#111" stroke-width="2"/>
<line x1="818" y1="1392.33" x2="823" y2="1392.33" stroke="#111" stroke-width="2"/>
<line x1="88.1" y1="1296.08" x2="94.1" y2="1296.08" stroke="#111" stroke-width="2"/>
<line x1="818" y1="1296.08" x2="823" y2="1296.08" stroke="#111" stroke-width="2"/>
<line x1="88.1" y1="1199.83" x2="94.1" y2="1199.83" stroke="#111" stroke-width="2"/>
<line x1="818" y1="1199.83" x2="823" y2="1199.83" stroke="#111" stroke-width="2"/>
<line x1="88.1" y1="1103.58" x2="94.1" y2="1103.58" stroke="#111" stroke-width="2"/>
<line x1="818" y1="1103.58" x2="823" y2="1103.58" stroke="#111" stroke-width="2"/>
<line x1="88.1" y1="1007.33" x2="94.1" y2="1007.33" stroke="#111" stroke-width="2"/>
<line x1="818" y1="1007.33" x2="823" y2="1007.33" stroke="#111" stroke-width="2"/>
<rect x="94.1" y="910.9" width="728.9" height="625.6" fill="none" stroke="#000" stroke-width="2.5"/>
<text transform="translate(155.14,1577.3) scale(1,1.08)" font-size="25" text-anchor="middle" font-family="'Liberation Sans', Arial, sans-serif">0</text>
<text transform="translate(276.62,1577.3) scale(1,1.08)" font-size="25" text-anchor="middle" font-family="'Liberation Sans', Arial, sans-serif">20000</text>
<text transform="translate(398.11,1577.3) scale(1,1.08)" font-size="25" text-anchor="middle" font-family="'Liberation Sans', Arial, sans-serif">40000</text>
<text transform="translate(519.59,1577.3) scale(1,1.08)" font-size="25" text-anchor="middle" font-family="'Liberation Sans', Arial, sans-serif">60000</text>
<text transform="translate(641.07,1577.3) scale(1,1.08)" font-size="25" text-anchor="middle" font-family="'Liberation Sans', Arial, sans-serif">80000</text>
<text transform="translate(762.56,1577.3) scale(1,1.08)" font-size="25" text-anchor="middle" font-family="'Liberation Sans', Arial, sans-serif">100000</text>
<text transform="translate(74,1544.3) scale(1,1.08)" font-size="25" text-anchor="end" font-family="'Liberation Sans', Arial, sans-serif">-30</text>
<text transform="translate(74,1448.05) scale(1,1.08)" font-size="25" text-anchor="end" font-family="'Liberation Sans', Arial, sans-serif">-25</text>
<text transform="translate(74,1351.8) scale(1,1.08)" font-size="25" text-anchor="end" font-family="'Liberation Sans', Arial, sans-serif">-20</text>
<text transform="translate(74,1255.55) scale(1,1.08)" font-size="25" text-anchor="end" font-family="'Liberation Sans', Arial, sans-serif">-15</text>
<text transform="translate(74,1159.3) scale(1,1.08)" font-size="25" text-anchor="end" font-family="'Liberation Sans', Arial, sans-serif">-10</text>
<text transform="translate(74,1063.05) scale(1,1.08)" font-size="25" text-anchor="end" font-family="'Liberation Sans', Arial, sans-serif">-5</text>
<text transform="translate(74,966.8) scale(1,1.08)" font-size="25" text-anchor="end" font-family="'Liberation Sans', Arial, sans-serif">0</text>
<polyline points="763,1387.8 658.6,1355.2 572.2,1333.5 500.8,1321.2 441.2,1315.9 392.5,1318.8 351.9,1321.8 318,1330 289.8,1334.5 266.6,1337.1 247.1,1334.5 231.5,1325.2 218.7,1311.4 207.3,1295 198.5,1275.8 191.2,1257 185.1,1238.8 179.7,1224 175.7,1212.6 172,1203 169,1197 166.6,1193 164.6,1192.3 162.9,1192.3 161.6,1193 160.4,1195.5 159.5,1199.5 158.7,1205 158,1212 157.5,1217.5 157.1,1223 156.7,1233.5 156.4,1247 156.1,1261 155.9,1268.5 155.7,1284 155.6,1290 155.5,1296.6 155.4,1303.3 155.3,1310.1 155.2,1318.1 155.1,1334.3 155.1,1349 155,1355.8 155,1369.2" fill="none" stroke="#6e6e6e" stroke-width="1.3" stroke-dasharray="3.4 2"/>
<polygon points="754,1380.3 772,1380.3 763,1395.8" fill="#000088"/>
<polygon points="649.6,1347.7 667.6,1347.7 658.6,1363.2" fill="#000088"/>
<polygon points="563.2,1326 581.2,1326 572.2,1341.5" fill="#000088"/>
<polygon points="491.8,1313.7 509.8,1313.7 500.8,1329.2" fill="#000088"/>
<polygon points="432.2,1308.4 450.2,1308.4 441.2,1323.9" fill="#000088"/>
<polygon points="383.5,1311.3 401.5,1311.3 392.5,1326.8" fill="#000088"/>
<polygon points="342.9,1314.3 360.9,1314.3 351.9,1329.8" fill="#000088"/>
<polygon points="309,1322.5 327,1322.5 318,1338" fill="#000088"/>
<polygon points="280.8,1327 298.8,1327 289.8,1342.5" fill="#000088"/>
<polygon points="257.6,1329.6 275.6,1329.6 266.6,1345.1" fill="#000088"/>
<polygon points="238.1,1327 256.1,1327 247.1,1342.5" fill="#000088"/>
<polygon points="222.5,1317.7 240.5,1317.7 231.5,1333.2" fill="#000088"/>
<polygon points="209.7,1303.9 227.7,1303.9 218.7,1319.4" fill="#000088"/>
<polygon points="198.3,1287.5 216.3,1287.5 207.3,1303" fill="#000088"/>
<polygon points="189.5,1268.3 207.5,1268.3 198.5,1283.8" fill="#000088"/>
<polygon points="182.2,1249.5 200.2,1249.5 191.2,1265" fill="#000088"/>
<polygon points="176.1,1231.3 194.1,1231.3 185.1,1246.8" fill="#000088"/>
<polygon points="170.7,1216.5 188.7,1216.5 179.7,1232" fill="#000088"/>
<polygon points="166.7,1205.1 184.7,1205.1 175.7,1220.6" fill="#000088"/>
<polygon points="163,1195.5 181,1195.5 172,1211" fill="#000088"/>
<polygon points="160,1189.5 178,1189.5 169,1205" fill="#000088"/>
<polygon points="157.6,1185.5 175.6,1185.5 166.6,1201" fill="#000088"/>
<polygon points="155.6,1184.8 173.6,1184.8 164.6,1200.3" fill="#000088"/>
<polygon points="153.9,1184.8 171.9,1184.8 162.9,1200.3" fill="#000088"/>
<polygon points="152.6,1185.5 170.6,1185.5 161.6,1201" fill="#000088"/>
<polygon points="151.4,1188 169.4,1188 160.4,1203.5" fill="#000088"/>
<polygon points="150.5,1192 168.5,1192 159.5,1207.5" fill="#000088"/>
<polygon points="149.7,1197.5 167.7,1197.5 158.7,1213" fill="#000088"/>
<polygon points="149,1204.5 167,1204.5 158,1220" fill="#000088"/>
<polygon points="148.5,1210 166.5,1210 157.5,1225.5" fill="#000088"/>
<polygon points="148.1,1215.5 166.1,1215.5 157.1,1231" fill="#000088"/>
<polygon points="147.7,1226 165.7,1226 156.7,1241.5" fill="#000088"/>
<polygon points="147.4,1239.5 165.4,1239.5 156.4,1255" fill="#000088"/>
<polygon points="147.1,1253.5 165.1,1253.5 156.1,1269" fill="#000088"/>
<polygon points="146.9,1261 164.9,1261 155.9,1276.5" fill="#000088"/>
<polygon points="146.7,1276.5 164.7,1276.5 155.7,1292" fill="#000088"/>
<polygon points="146.6,1282.5 164.6,1282.5 155.6,1298" fill="#000088"/>
<polygon points="146.5,1289.1 164.5,1289.1 155.5,1304.6" fill="#000088"/>
<polygon points="146.4,1295.8 164.4,1295.8 155.4,1311.3" fill="#000088"/>
<polygon points="146.3,1302.6 164.3,1302.6 155.3,1318.1" fill="#000088"/>
<polygon points="146.2,1310.6 164.2,1310.6 155.2,1326.1" fill="#000088"/>
<polygon points="146.1,1326.8 164.1,1326.8 155.1,1342.3" fill="#000088"/>
<polygon points="146.1,1341.5 164.1,1341.5 155.1,1357" fill="#000088"/>
<polygon points="146,1348.3 164,1348.3 155,1363.8" fill="#000088"/>
<polygon points="146,1361.7 164,1361.7 155,1377.2" fill="#000088"/>
<polyline points="763,1461.9 658.6,1422.1 572.2,1394.1 500.8,1375.2 441.2,1361.2 392.5,1348.1 351.4,1337.1 318,1320.1 289.8,1300.6 266.6,1277.4 247.1,1250.8 231.6,1222 218.5,1193.6 207.1,1166.7 198.3,1141.6 190.4,1119.6 185,1100.9 179.6,1085.8 175.2,1072.6 172.8,1061.3 170.8,1054.5 168.9,1049.3 166,1044.7 163,1041.3 161,1038.5 159,1038.5 157,1048.8 156.3,1039 155.8,1032.5 155.5,1027.5 155.3,1023 155.1,1007 155,996 155,992.5 155,988.8" fill="none" stroke="#ffa040" stroke-width="1.3" stroke-dasharray="3.4 2"/>
<polygon points="754,1454.4 772,1454.4 763,1469.9" fill="#ff8800"/>
<polygon points="649.6,1414.6 667.6,1414.6 658.6,1430.1" fill="#ff8800"/>
<polygon points="563.2,1386.6 581.2,1386.6 572.2,1402.1" fill="#ff8800"/>
<polygon points="491.8,1367.7 509.8,1367.7 500.8,1383.2" fill="#ff8800"/>
<polygon points="432.2,1353.7 450.2,1353.7 441.2,1369.2" fill="#ff8800"/>
<polygon points="383.5,1340.6 401.5,1340.6 392.5,1356.1" fill="#ff8800"/>
<polygon points="342.4,1329.6 360.4,1329.6 351.4,1345.1" fill="#ff8800"/>
<polygon points="309,1312.6 327,1312.6 318,1328.1" fill="#ff8800"/>
<polygon points="280.8,1293.1 298.8,1293.1 289.8,1308.6" fill="#ff8800"/>
<polygon points="257.6,1269.9 275.6,1269.9 266.6,1285.4" fill="#ff8800"/>
<polygon points="238.1,1243.3 256.1,1243.3 247.1,1258.8" fill="#ff8800"/>
<polygon points="222.6,1214.5 240.6,1214.5 231.6,1230" fill="#ff8800"/>
<polygon points="209.5,1186.1 227.5,1186.1 218.5,1201.6" fill="#ff8800"/>
<polygon points="198.1,1159.2 216.1,1159.2 207.1,1174.7" fill="#ff8800"/>
<polygon points="189.3,1134.1 207.3,1134.1 198.3,1149.6" fill="#ff8800"/>
<polygon points="181.4,1112.1 199.4,1112.1 190.4,1127.6" fill="#ff8800"/>
<polygon points="176,1093.4 194,1093.4 185,1108.9" fill="#ff8800"/>
<polygon points="170.6,1078.3 188.6,1078.3 179.6,1093.8" fill="#ff8800"/>
<polygon points="166.2,1065.1 184.2,1065.1 175.2,1080.6" fill="#ff8800"/>
<polygon points="163.8,1053.8 181.8,1053.8 172.8,1069.3" fill="#ff8800"/>
<polygon points="161.8,1047 179.8,1047 170.8,1062.5" fill="#ff8800"/>
<polygon points="159.9,1041.8 177.9,1041.8 168.9,1057.3" fill="#ff8800"/>
<polygon points="157,1037.2 175,1037.2 166,1052.7" fill="#ff8800"/>
<polygon points="154,1033.8 172,1033.8 163,1049.3" fill="#ff8800"/>
<polygon points="152,1031 170,1031 161,1046.5" fill="#ff8800"/>
<polygon points="150,1031 168,1031 159,1046.5" fill="#ff8800"/>
<polygon points="148,1041.3 166,1041.3 157,1056.8" fill="#ff8800"/>
<polygon points="147.3,1031.5 165.3,1031.5 156.3,1047" fill="#ff8800"/>
<polygon points="146.8,1025 164.8,1025 155.8,1040.5" fill="#ff8800"/>
<polygon points="146.5,1020 164.5,1020 155.5,1035.5" fill="#ff8800"/>
<polygon points="146.3,1015.5 164.3,1015.5 155.3,1031" fill="#ff8800"/>
<polygon points="146.1,999.5 164.1,999.5 155.1,1015" fill="#ff8800"/>
<polygon points="146,988.5 164,988.5 155,1004" fill="#ff8800"/>
<polygon points="146,985 164,985 155,1000.5" fill="#ff8800"/>
<polygon points="146,981.3 164,981.3 155,996.8" fill="#ff8800"/>
<rect x="381.4" y="940.4" width="409.5" height="83.1" fill="#fff" stroke="#8a8a8a" stroke-width="1.3"/>
<line x1="386.5" y1="962.4" x2="454.4" y2="962.4" stroke="#b8b8b8" stroke-width="1.5"/>
<line x1="386.5" y1="1002.2" x2="454.4" y2="1002.2" stroke="#ffc487" stroke-width="1.5"/>
<polygon points="411.5,956.5 429.5,956.5 420.5,972.3" fill="#000088"/>
<polygon points="411.5,997 429.5,997 420.5,1012.8" fill="#ff8800"/>
<text x="462.3" y="972.2" font-size="30.6" text-anchor="start" font-family="'Liberation Sans', Arial, sans-serif">Fe before corrosion</text>
<text x="462.3" y="1012.9" font-size="30.6" text-anchor="start" font-family="'Liberation Sans', Arial, sans-serif">Fe-PEI before corrosion</text>
<text x="41.4" y="902" font-size="54" text-anchor="start" font-family="'Liberation Sans', Arial, sans-serif">c</text>
<text x="76.3" y="902" font-size="54" text-anchor="start" font-family="'Liberation Sans', Arial, sans-serif">)</text>
<text x="354.2" y="1627.4" font-size="30.5" text-anchor="start" font-family="'Liberation Sans', Arial, sans-serif">Frequency (Hz)</text>
<text transform="translate(26.3,1312.1) rotate(-90)" font-size="32.3" font-family="'Liberation Sans', Arial, sans-serif">Phase (deg)</text>
<line x1="1097.56" y1="1531.4" x2="1097.56" y2="1543.4" stroke="#111" stroke-width="2"/>
<line x1="1097.56" y1="906.1" x2="1097.56" y2="917.6" stroke="#111" stroke-width="2"/>
<line x1="1219.28" y1="1531.4" x2="1219.28" y2="1543.4" stroke="#111" stroke-width="2"/>
<line x1="1219.28" y1="906.1" x2="1219.28" y2="917.6" stroke="#111" stroke-width="2"/>
<line x1="1340.99" y1="1531.4" x2="1340.99" y2="1543.4" stroke="#111" stroke-width="2"/>
<line x1="1340.99" y1="906.1" x2="1340.99" y2="917.6" stroke="#111" stroke-width="2"/>
<line x1="1462.71" y1="1531.4" x2="1462.71" y2="1543.4" stroke="#111" stroke-width="2"/>
<line x1="1462.71" y1="906.1" x2="1462.71" y2="917.6" stroke="#111" stroke-width="2"/>
<line x1="1584.42" y1="1531.4" x2="1584.42" y2="1543.4" stroke="#111" stroke-width="2"/>
<line x1="1584.42" y1="906.1" x2="1584.42" y2="917.6" stroke="#111" stroke-width="2"/>
<line x1="1706.14" y1="1531.4" x2="1706.14" y2="1543.4" stroke="#111" stroke-width="2"/>
<line x1="1706.14" y1="906.1" x2="1706.14" y2="917.6" stroke="#111" stroke-width="2"/>
<line x1="1036.7" y1="1531.4" x2="1036.7" y2="1537.4" stroke="#111" stroke-width="2"/>
<line x1="1158.42" y1="1531.4" x2="1158.42" y2="1537.4" stroke="#111" stroke-width="2"/>
<line x1="1158.42" y1="906.1" x2="1158.42" y2="911.6" stroke="#111" stroke-width="2"/>
<line x1="1280.13" y1="1531.4" x2="1280.13" y2="1537.4" stroke="#111" stroke-width="2"/>
<line x1="1280.13" y1="906.1" x2="1280.13" y2="911.6" stroke="#111" stroke-width="2"/>
<line x1="1401.85" y1="1531.4" x2="1401.85" y2="1537.4" stroke="#111" stroke-width="2"/>
<line x1="1401.85" y1="906.1" x2="1401.85" y2="911.6" stroke="#111" stroke-width="2"/>
<line x1="1523.57" y1="1531.4" x2="1523.57" y2="1537.4" stroke="#111" stroke-width="2"/>
<line x1="1523.57" y1="906.1" x2="1523.57" y2="911.6" stroke="#111" stroke-width="2"/>
<line x1="1645.28" y1="1531.4" x2="1645.28" y2="1537.4" stroke="#111" stroke-width="2"/>
<line x1="1645.28" y1="906.1" x2="1645.28" y2="911.6" stroke="#111" stroke-width="2"/>
<line x1="1767" y1="1531.4" x2="1767" y2="1537.4" stroke="#111" stroke-width="2"/>
<line x1="1024.7" y1="1531.4" x2="1036.7" y2="1531.4" stroke="#111" stroke-width="2"/>
<line x1="1024.7" y1="1435.2" x2="1036.7" y2="1435.2" stroke="#111" stroke-width="2"/>
<line x1="1756" y1="1435.2" x2="1767" y2="1435.2" stroke="#111" stroke-width="2"/>
<line x1="1024.7" y1="1339" x2="1036.7" y2="1339" stroke="#111" stroke-width="2"/>
<line x1="1756" y1="1339" x2="1767" y2="1339" stroke="#111" stroke-width="2"/>
<line x1="1024.7" y1="1242.8" x2="1036.7" y2="1242.8" stroke="#111" stroke-width="2"/>
<line x1="1756" y1="1242.8" x2="1767" y2="1242.8" stroke="#111" stroke-width="2"/>
<line x1="1024.7" y1="1146.6" x2="1036.7" y2="1146.6" stroke="#111" stroke-width="2"/>
<line x1="1756" y1="1146.6" x2="1767" y2="1146.6" stroke="#111" stroke-width="2"/>
<line x1="1024.7" y1="1050.4" x2="1036.7" y2="1050.4" stroke="#111" stroke-width="2"/>
<line x1="1756" y1="1050.4" x2="1767" y2="1050.4" stroke="#111" stroke-width="2"/>
<line x1="1024.7" y1="954.2" x2="1036.7" y2="954.2" stroke="#111" stroke-width="2"/>
<line x1="1756" y1="954.2" x2="1767" y2="954.2" stroke="#111" stroke-width="2"/>
<line x1="1030.7" y1="1483.3" x2="1036.7" y2="1483.3" stroke="#111" stroke-width="2"/>
<line x1="1761.5" y1="1483.3" x2="1767" y2="1483.3" stroke="#111" stroke-width="2"/>
<line x1="1030.7" y1="1387.1" x2="1036.7" y2="1387.1" stroke="#111" stroke-width="2"/>
<line x1="1761.5" y1="1387.1" x2="1767" y2="1387.1" stroke="#111" stroke-width="2"/>
<line x1="1030.7" y1="1290.9" x2="1036.7" y2="1290.9" stroke="#111" stroke-width="2"/>
<line x1="1761.5" y1="1290.9" x2="1767" y2="1290.9" stroke="#111" stroke-width="2"/>
<line x1="1030.7" y1="1194.7" x2="1036.7" y2="1194.7" stroke="#111" stroke-width="2"/>
<line x1="1761.5" y1="1194.7" x2="1767" y2="1194.7" stroke="#111" stroke-width="2"/>
<line x1="1030.7" y1="1098.5" x2="1036.7" y2="1098.5" stroke="#111" stroke-width="2"/>
<line x1="1761.5" y1="1098.5" x2="1767" y2="1098.5" stroke="#111" stroke-width="2"/>
<line x1="1030.7" y1="1002.3" x2="1036.7" y2="1002.3" stroke="#111" stroke-width="2"/>
<line x1="1761.5" y1="1002.3" x2="1767" y2="1002.3" stroke="#111" stroke-width="2"/>
<line x1="1030.7" y1="906.1" x2="1036.7" y2="906.1" stroke="#111" stroke-width="2"/>
<rect x="1036.7" y="906.1" width="730.3" height="625.3" fill="none" stroke="#000" stroke-width="2.5"/>
<text transform="translate(1097.86,1572.6) scale(1,1.08)" font-size="25" text-anchor="middle" font-family="'Liberation Sans', Arial, sans-serif">0</text>
<text transform="translate(1219.58,1572.6) scale(1,1.08)" font-size="25" text-anchor="middle" font-family="'Liberation Sans', Arial, sans-serif">20000</text>
<text transform="translate(1341.29,1572.6) scale(1,1.08)" font-size="25" text-anchor="middle" font-family="'Liberation Sans', Arial, sans-serif">40000</text>
<text transform="translate(1463.01,1572.6) scale(1,1.08)" font-size="25" text-anchor="middle" font-family="'Liberation Sans', Arial, sans-serif">60000</text>
<text transform="translate(1584.72,1572.6) scale(1,1.08)" font-size="25" text-anchor="middle" font-family="'Liberation Sans', Arial, sans-serif">80000</text>
<text transform="translate(1706.44,1572.6) scale(1,1.08)" font-size="25" text-anchor="middle" font-family="'Liberation Sans', Arial, sans-serif">100000</text>
<text transform="translate(1017.8,1539.2) scale(1,1.08)" font-size="25" text-anchor="end" font-family="'Liberation Sans', Arial, sans-serif">-35</text>
<text transform="translate(1017.8,1443) scale(1,1.08)" font-size="25" text-anchor="end" font-family="'Liberation Sans', Arial, sans-serif">-30</text>
<text transform="translate(1017.8,1346.8) scale(1,1.08)" font-size="25" text-anchor="end" font-family="'Liberation Sans', Arial, sans-serif">-25</text>
<text transform="translate(1017.8,1250.6) scale(1,1.08)" font-size="25" text-anchor="end" font-family="'Liberation Sans', Arial, sans-serif">-20</text>
<text transform="translate(1017.8,1154.4) scale(1,1.08)" font-size="25" text-anchor="end" font-family="'Liberation Sans', Arial, sans-serif">-15</text>
<text transform="translate(1017.8,1058.2) scale(1,1.08)" font-size="25" text-anchor="end" font-family="'Liberation Sans', Arial, sans-serif">-10</text>
<text transform="translate(1017.8,962) scale(1,1.08)" font-size="25" text-anchor="end" font-family="'Liberation Sans', Arial, sans-serif">-5</text>
<polyline points="1706.6,1244.9 1601.7,1210.5 1515.5,1186.1 1444.2,1170 1385.1,1162.3 1335.4,1158.9 1295.3,1160.6 1261.4,1163.2 1233.2,1168.3 1210.3,1169.1 1190.8,1165.7 1174.9,1157.3 1162,1146.3 1150.6,1127.5 1141.9,1107.3 1134.5,1085.8 1128.5,1064.3 1122.5,1042.5 1118,1028 1114.2,1013.9 1111.2,1002 1108.7,992.9 1107,984 1105.5,977.6 1104.2,977.6 1103,979 1102,982 1101.2,986.5 1100.6,993.5 1100.2,1003.5 1099.8,1013.5 1099.5,1023.9 1099.2,1037.3 1098.9,1051.3 1098.7,1065.5 1098.5,1083.1 1098.4,1094.5 1098.3,1110.6 1098.2,1134.8 1098.1,1151.6 1098,1181.2 1098,1219.9 1098,1236.3 1098,1275" fill="none" stroke="#666666" stroke-width="1.3" stroke-dasharray="3.4 2"/>
<polygon points="1697.6,1237.4 1715.6,1237.4 1706.6,1252.9" fill="#000088"/>
<polygon points="1592.7,1203 1610.7,1203 1601.7,1218.5" fill="#000088"/>
<polygon points="1506.5,1178.6 1524.5,1178.6 1515.5,1194.1" fill="#000088"/>
<polygon points="1435.2,1162.5 1453.2,1162.5 1444.2,1178" fill="#000088"/>
<polygon points="1376.1,1154.8 1394.1,1154.8 1385.1,1170.3" fill="#000088"/>
<polygon points="1326.4,1151.4 1344.4,1151.4 1335.4,1166.9" fill="#000088"/>
<polygon points="1286.3,1153.1 1304.3,1153.1 1295.3,1168.6" fill="#000088"/>
<polygon points="1252.4,1155.7 1270.4,1155.7 1261.4,1171.2" fill="#000088"/>
<polygon points="1224.2,1160.8 1242.2,1160.8 1233.2,1176.3" fill="#000088"/>
<polygon points="1201.3,1161.6 1219.3,1161.6 1210.3,1177.1" fill="#000088"/>
<polygon points="1181.8,1158.2 1199.8,1158.2 1190.8,1173.7" fill="#000088"/>
<polygon points="1165.9,1149.8 1183.9,1149.8 1174.9,1165.3" fill="#000088"/>
<polygon points="1153,1138.8 1171,1138.8 1162,1154.3" fill="#000088"/>
<polygon points="1141.6,1120 1159.6,1120 1150.6,1135.5" fill="#000088"/>
<polygon points="1132.9,1099.8 1150.9,1099.8 1141.9,1115.3" fill="#000088"/>
<polygon points="1125.5,1078.3 1143.5,1078.3 1134.5,1093.8" fill="#000088"/>
<polygon points="1119.5,1056.8 1137.5,1056.8 1128.5,1072.3" fill="#000088"/>
<polygon points="1113.5,1035 1131.5,1035 1122.5,1050.5" fill="#000088"/>
<polygon points="1109,1020.5 1127,1020.5 1118,1036" fill="#000088"/>
<polygon points="1105.2,1006.4 1123.2,1006.4 1114.2,1021.9" fill="#000088"/>
<polygon points="1102.2,994.5 1120.2,994.5 1111.2,1010" fill="#000088"/>
<polygon points="1099.7,985.4 1117.7,985.4 1108.7,1000.9" fill="#000088"/>
<polygon points="1098,976.5 1116,976.5 1107,992" fill="#000088"/>
<polygon points="1096.5,970.1 1114.5,970.1 1105.5,985.6" fill="#000088"/>
<polygon points="1095.2,970.1 1113.2,970.1 1104.2,985.6" fill="#000088"/>
<polygon points="1094,971.5 1112,971.5 1103,987" fill="#000088"/>
<polygon points="1093,974.5 1111,974.5 1102,990" fill="#000088"/>
<polygon points="1092.2,979 1110.2,979 1101.2,994.5" fill="#000088"/>
<polygon points="1091.6,986 1109.6,986 1100.6,1001.5" fill="#000088"/>
<polygon points="1091.2,996 1109.2,996 1100.2,1011.5" fill="#000088"/>
<polygon points="1090.8,1006 1108.8,1006 1099.8,1021.5" fill="#000088"/>
<polygon points="1090.5,1016.4 1108.5,1016.4 1099.5,1031.9" fill="#000088"/>
<polygon points="1090.2,1029.8 1108.2,1029.8 1099.2,1045.3" fill="#000088"/>
<polygon points="1089.9,1043.8 1107.9,1043.8 1098.9,1059.3" fill="#000088"/>
<polygon points="1089.7,1058 1107.7,1058 1098.7,1073.5" fill="#000088"/>
<polygon points="1089.5,1075.6 1107.5,1075.6 1098.5,1091.1" fill="#000088"/>
<polygon points="1089.4,1087 1107.4,1087 1098.4,1102.5" fill="#000088"/>
<polygon points="1089.3,1103.1 1107.3,1103.1 1098.3,1118.6" fill="#000088"/>
<polygon points="1089.2,1127.3 1107.2,1127.3 1098.2,1142.8" fill="#000088"/>
<polygon points="1089.1,1144.1 1107.1,1144.1 1098.1,1159.6" fill="#000088"/>
<polygon points="1089,1173.7 1107,1173.7 1098,1189.2" fill="#000088"/>
<polygon points="1089,1212.4 1107,1212.4 1098,1227.9" fill="#000088"/>
<polygon points="1089,1228.8 1107,1228.8 1098,1244.3" fill="#000088"/>
<polygon points="1089,1267.5 1107,1267.5 1098,1283" fill="#000088"/>
<polyline points="1706.6,1321.4 1601.7,1278.3 1515.5,1249.4 1444.2,1229.2 1385.1,1217.4 1335.4,1212.3 1295.3,1210.6 1261.4,1209 1233.2,1207.3 1210.3,1201.3 1190.8,1187.8 1174.9,1171.9 1161.8,1151 1150.6,1128.1 1141.9,1104.6 1134.5,1081.7 1127.6,1060 1122.4,1042.9 1118,1028.6 1114,1020.6 1111,1013.5 1108,1010 1106,1010.5 1104.5,1015.5 1103.2,1021.5 1102.6,1028.5 1102.4,1036.5 1102,1048 1101.8,1060.7 1100.5,1061.6 1099.6,1080.4 1099.2,1101.9 1099,1126.1 1098.9,1149.6 1098.8,1168.5 1098.7,1205.6 1098.7,1235.9 1098.7,1266.2 1098.7,1295.5 1098.7,1328.8 1098.7,1356.2 1098.7,1383.5 1098.7,1398.2 1098.7,1432.4 1098.7,1451 1098.7,1461.7" fill="none" stroke="#f25050" stroke-width="1.2" stroke-dasharray="3.4 2"/>
<polygon points="1697.6,1313.9 1715.6,1313.9 1706.6,1329.4" fill="#ff8800"/>
<polygon points="1592.7,1270.8 1610.7,1270.8 1601.7,1286.3" fill="#ff8800"/>
<polygon points="1506.5,1241.9 1524.5,1241.9 1515.5,1257.4" fill="#ff8800"/>
<polygon points="1435.2,1221.7 1453.2,1221.7 1444.2,1237.2" fill="#ff8800"/>
<polygon points="1376.1,1209.9 1394.1,1209.9 1385.1,1225.4" fill="#ff8800"/>
<polygon points="1326.4,1204.8 1344.4,1204.8 1335.4,1220.3" fill="#ff8800"/>
<polygon points="1286.3,1203.1 1304.3,1203.1 1295.3,1218.6" fill="#ff8800"/>
<polygon points="1252.4,1201.5 1270.4,1201.5 1261.4,1217" fill="#ff8800"/>
<polygon points="1224.2,1199.8 1242.2,1199.8 1233.2,1215.3" fill="#ff8800"/>
<polygon points="1201.3,1193.8 1219.3,1193.8 1210.3,1209.3" fill="#ff8800"/>
<polygon points="1181.8,1180.3 1199.8,1180.3 1190.8,1195.8" fill="#ff8800"/>
<polygon points="1165.9,1164.4 1183.9,1164.4 1174.9,1179.9" fill="#ff8800"/>
<polygon points="1152.8,1143.5 1170.8,1143.5 1161.8,1159" fill="#ff8800"/>
<polygon points="1141.6,1120.6 1159.6,1120.6 1150.6,1136.1" fill="#ff8800"/>
<polygon points="1132.9,1097.1 1150.9,1097.1 1141.9,1112.6" fill="#ff8800"/>
<polygon points="1125.5,1074.2 1143.5,1074.2 1134.5,1089.7" fill="#ff8800"/>
<polygon points="1118.6,1052.5 1136.6,1052.5 1127.6,1068" fill="#ff8800"/>
<polygon points="1113.4,1035.4 1131.4,1035.4 1122.4,1050.9" fill="#ff8800"/>
<polygon points="1109,1021.1 1127,1021.1 1118,1036.6" fill="#ff8800"/>
<polygon points="1105,1013.1 1123,1013.1 1114,1028.6" fill="#ff8800"/>
<polygon points="1102,1006 1120,1006 1111,1021.5" fill="#ff8800"/>
<polygon points="1099,1002.5 1117,1002.5 1108,1018" fill="#ff8800"/>
<polygon points="1097,1003 1115,1003 1106,1018.5" fill="#ff8800"/>
<polygon points="1095.5,1008 1113.5,1008 1104.5,1023.5" fill="#ff8800"/>
<polygon points="1094.2,1014 1112.2,1014 1103.2,1029.5" fill="#ff8800"/>
<polygon points="1093.6,1021 1111.6,1021 1102.6,1036.5" fill="#ff8800"/>
<polygon points="1093.4,1029 1111.4,1029 1102.4,1044.5" fill="#ff8800"/>
<polygon points="1093,1040.5 1111,1040.5 1102,1056" fill="#ff8800"/>
<polygon points="1092.8,1053.2 1110.8,1053.2 1101.8,1068.7" fill="#ff8800"/>
<polygon points="1091.5,1054.1 1109.5,1054.1 1100.5,1069.6" fill="#ff8800"/>
<polygon points="1090.6,1072.9 1108.6,1072.9 1099.6,1088.4" fill="#ff8800"/>
<polygon points="1090.2,1094.4 1108.2,1094.4 1099.2,1109.9" fill="#ff8800"/>
<polygon points="1090,1118.6 1108,1118.6 1099,1134.1" fill="#ff8800"/>
<polygon points="1089.9,1142.1 1107.9,1142.1 1098.9,1157.6" fill="#ff8800"/>
<polygon points="1089.8,1161 1107.8,1161 1098.8,1176.5" fill="#ff8800"/>
<polygon points="1089.7,1198.1 1107.7,1198.1 1098.7,1213.6" fill="#ff8800"/>
<polygon points="1089.7,1228.4 1107.7,1228.4 1098.7,1243.9" fill="#ff8800"/>
<polygon points="1089.7,1258.7 1107.7,1258.7 1098.7,1274.2" fill="#ff8800"/>
<polygon points="1089.7,1288 1107.7,1288 1098.7,1303.5" fill="#ff8800"/>
<polygon points="1089.7,1321.3 1107.7,1321.3 1098.7,1336.8" fill="#ff8800"/>
<polygon points="1089.7,1348.7 1107.7,1348.7 1098.7,1364.2" fill="#ff8800"/>
<polygon points="1089.7,1376 1107.7,1376 1098.7,1391.5" fill="#ff8800"/>
<polygon points="1089.7,1390.7 1107.7,1390.7 1098.7,1406.2" fill="#ff8800"/>
<polygon points="1089.7,1424.9 1107.7,1424.9 1098.7,1440.4" fill="#ff8800"/>
<polygon points="1089.7,1443.5 1107.7,1443.5 1098.7,1459" fill="#ff8800"/>
<polygon points="1089.7,1454.2 1107.7,1454.2 1098.7,1469.7" fill="#ff8800"/>
<rect x="1351.9" y="931.6" width="382.8" height="84.7" fill="#fff" stroke="#8a8a8a" stroke-width="1.3"/>
<line x1="1356.1" y1="954.2" x2="1424.5" y2="954.2" stroke="#b0b0b0" stroke-width="1.5"/>
<line x1="1356.1" y1="994.5" x2="1424.5" y2="994.5" stroke="#ffb8b8" stroke-width="1.5"/>
<polygon points="1380.7,948.5 1398.7,948.5 1389.7,964.3" fill="#000088"/>
<polygon points="1380.7,988.6 1398.7,988.6 1389.7,1004.4" fill="#ff8800"/>
<text x="1432.3" y="965.1" font-size="30.5" text-anchor="start" font-family="'Liberation Sans', Arial, sans-serif">Fe after corrosion</text>
<text x="1432.3" y="1004.9" font-size="30.5" text-anchor="start" font-family="'Liberation Sans', Arial, sans-serif">Fe-PEI after corrosion</text>
<text x="939.4" y="902" font-size="54" text-anchor="start" font-family="'Liberation Sans', Arial, sans-serif">d</text>
<text x="975.7" y="902" font-size="54" text-anchor="start" font-family="'Liberation Sans', Arial, sans-serif">)</text>
<text x="1297" y="1621.5" font-size="30.5" text-anchor="start" font-family="'Liberation Sans', Arial, sans-serif">Frequency (Hz)</text>
<text transform="translate(969,1307.6) rotate(-90)" font-size="32.5" font-family="'Liberation Sans', Arial, sans-serif">Phase (deg)</text>
</svg></body></html>
